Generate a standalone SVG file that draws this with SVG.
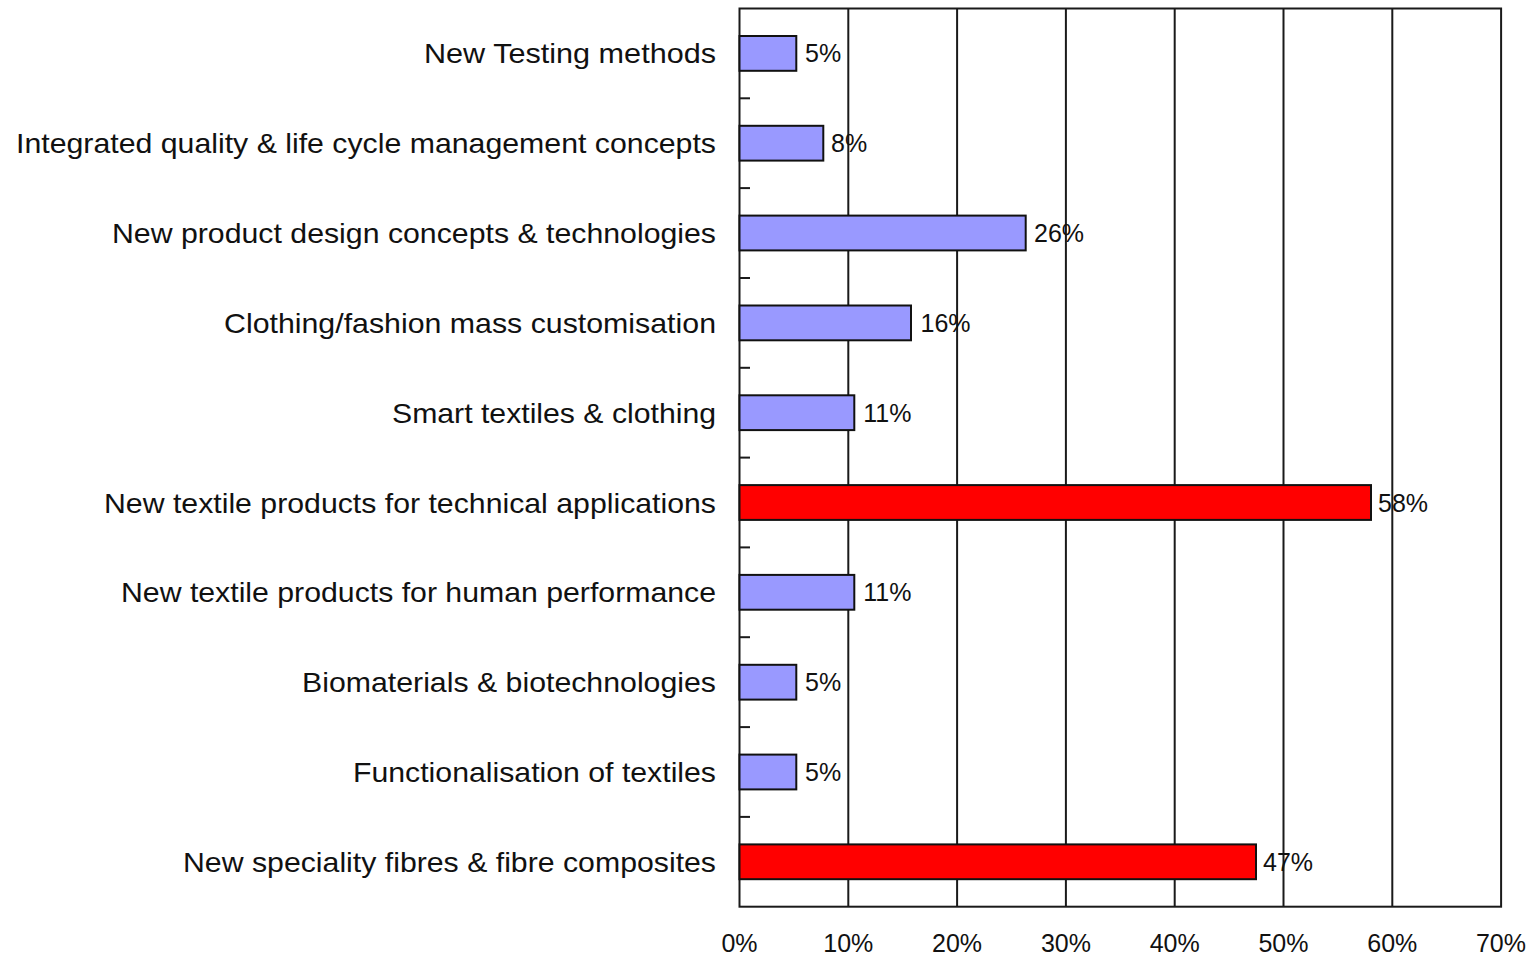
<svg xmlns="http://www.w3.org/2000/svg" width="1533" height="956" viewBox="0 0 1533 956">
<style>
.cat{font-family:"Liberation Sans",Arial,sans-serif;font-size:28px;fill:#111;text-anchor:end}
.val{font-family:"Liberation Sans",Arial,sans-serif;font-size:25px;fill:#111}
.ax{font-family:"Liberation Sans",Arial,sans-serif;font-size:25px;fill:#111;text-anchor:middle}
.grid{stroke:#1a1a1a;stroke-width:2;fill:none}
.blue{fill:#9999FF;stroke:#111;stroke-width:2}
.red{fill:#FF0000;stroke:#111;stroke-width:2}
.tick{stroke:#1a1a1a;stroke-width:2}
</style>
<rect x="0" y="0" width="1533" height="956" fill="#ffffff"/>
<g id="gridlines">
<line class="grid" x1="848.3" y1="8.5" x2="848.3" y2="906.7"/>
<line class="grid" x1="957.1" y1="8.5" x2="957.1" y2="906.7"/>
<line class="grid" x1="1065.9" y1="8.5" x2="1065.9" y2="906.7"/>
<line class="grid" x1="1174.7" y1="8.5" x2="1174.7" y2="906.7"/>
<line class="grid" x1="1283.5" y1="8.5" x2="1283.5" y2="906.7"/>
<line class="grid" x1="1392.3" y1="8.5" x2="1392.3" y2="906.7"/>
</g>
<g id="frame">
<rect class="grid" x="739.5" y="8.5" width="761.6" height="898.2"/>
</g>
<g id="ticks">
<line class="tick" x1="739.5" y1="98.3" x2="750" y2="98.3"/>
<line class="tick" x1="739.5" y1="188.1" x2="750" y2="188.1"/>
<line class="tick" x1="739.5" y1="278" x2="750" y2="278"/>
<line class="tick" x1="739.5" y1="367.8" x2="750" y2="367.8"/>
<line class="tick" x1="739.5" y1="457.6" x2="750" y2="457.6"/>
<line class="tick" x1="739.5" y1="547.4" x2="750" y2="547.4"/>
<line class="tick" x1="739.5" y1="637.2" x2="750" y2="637.2"/>
<line class="tick" x1="739.5" y1="727.1" x2="750" y2="727.1"/>
<line class="tick" x1="739.5" y1="816.9" x2="750" y2="816.9"/>
</g>
<g id="xaxis-labels">
<text class="ax" x="739.5" y="952">0%</text>
<text class="ax" x="848.3" y="952">10%</text>
<text class="ax" x="957.1" y="952">20%</text>
<text class="ax" x="1065.9" y="952">30%</text>
<text class="ax" x="1174.7" y="952">40%</text>
<text class="ax" x="1283.5" y="952">50%</text>
<text class="ax" x="1392.3" y="952">60%</text>
<text class="ax" x="1501" y="952">70%</text>
</g>
<g id="bar-testing">
<text class="cat" x="716" y="63.4" textLength="292" lengthAdjust="spacingAndGlyphs">New Testing methods</text>
<rect class="blue" x="739.5" y="36" width="56.8" height="34.8"/>
<text class="val" x="805" y="62.4">5%</text>
</g>
<g id="bar-quality">
<text class="cat" x="716" y="153.2" textLength="700" lengthAdjust="spacingAndGlyphs">Integrated quality &amp; life cycle management concepts</text>
<rect class="blue" x="739.5" y="125.8" width="83.8" height="34.8"/>
<text class="val" x="831" y="152.2">8%</text>
</g>
<g id="bar-design">
<text class="cat" x="716" y="243" textLength="604" lengthAdjust="spacingAndGlyphs">New product design concepts &amp; technologies</text>
<rect class="blue" x="739.5" y="215.6" width="286.2" height="34.8"/>
<text class="val" x="1034" y="242">26%</text>
</g>
<g id="bar-clothing">
<text class="cat" x="716" y="332.9" textLength="492" lengthAdjust="spacingAndGlyphs">Clothing/fashion mass customisation</text>
<rect class="blue" x="739.5" y="305.5" width="171.5" height="34.8"/>
<text class="val" x="920.5" y="331.9">16%</text>
</g>
<g id="bar-smart">
<text class="cat" x="716" y="422.7" textLength="324" lengthAdjust="spacingAndGlyphs">Smart textiles &amp; clothing</text>
<rect class="blue" x="739.5" y="395.3" width="114.8" height="34.8"/>
<text class="val" x="863.3" y="421.7">11%</text>
</g>
<g id="bar-technical">
<text class="cat" x="716" y="512.5" textLength="612" lengthAdjust="spacingAndGlyphs">New textile products for technical applications</text>
<rect class="red" x="739.5" y="485.1" width="631.5" height="34.8"/>
<text class="val" x="1378" y="511.5">58%</text>
</g>
<g id="bar-human">
<text class="cat" x="716" y="602.3" textLength="595" lengthAdjust="spacingAndGlyphs">New textile products for human performance</text>
<rect class="blue" x="739.5" y="574.9" width="114.8" height="34.8"/>
<text class="val" x="863.3" y="601.3">11%</text>
</g>
<g id="bar-bio">
<text class="cat" x="716" y="692.2" textLength="414" lengthAdjust="spacingAndGlyphs">Biomaterials &amp; biotechnologies</text>
<rect class="blue" x="739.5" y="664.8" width="56.8" height="34.8"/>
<text class="val" x="805" y="691.2">5%</text>
</g>
<g id="bar-functional">
<text class="cat" x="716" y="782" textLength="363" lengthAdjust="spacingAndGlyphs">Functionalisation of textiles</text>
<rect class="blue" x="739.5" y="754.6" width="56.8" height="34.8"/>
<text class="val" x="805" y="781">5%</text>
</g>
<g id="bar-fibres">
<text class="cat" x="716" y="871.8" textLength="533" lengthAdjust="spacingAndGlyphs">New speciality fibres &amp; fibre composites</text>
<rect class="red" x="739.5" y="844.4" width="516.5" height="34.8"/>
<text class="val" x="1263" y="870.8">47%</text>
</g>
<g id="connectors"></g>
</svg>
